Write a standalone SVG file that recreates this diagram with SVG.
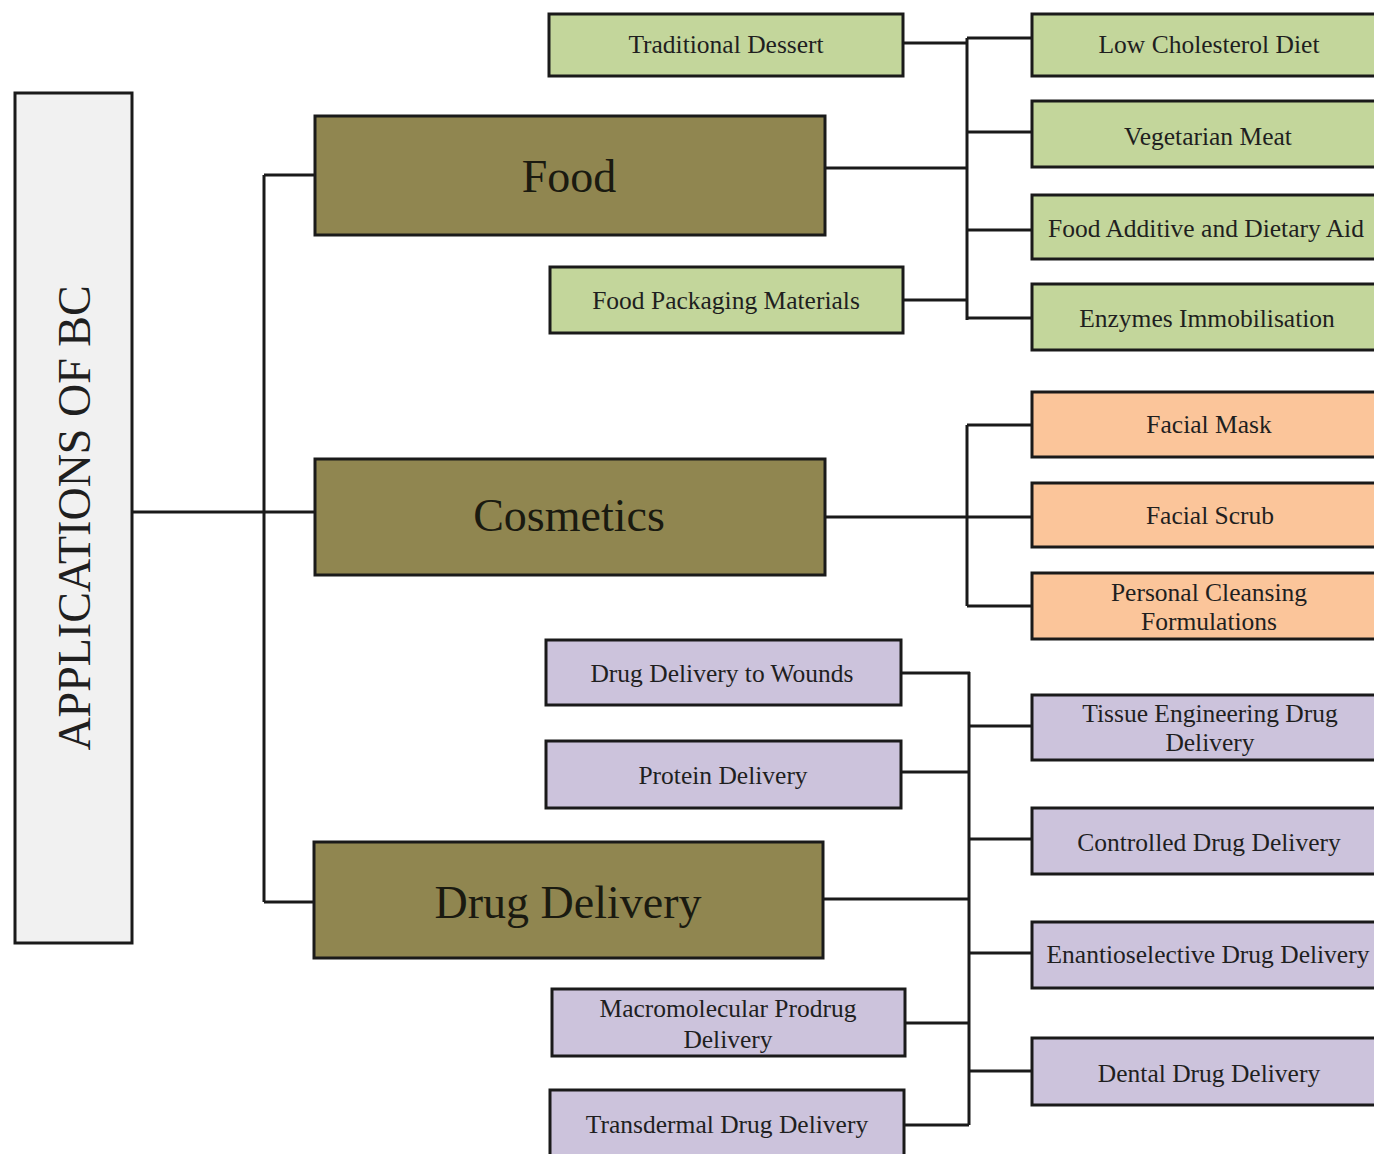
<svg xmlns="http://www.w3.org/2000/svg" width="1374" height="1154" viewBox="0 0 1374 1154">
<style>
.box{stroke:#1a1a1a;stroke-width:3}
.root{fill:#f1f1f1}
.main{fill:#908650}
.g{fill:#c3d69b}
.o{fill:#fbc59a}
.p{fill:#ccc3dc}
text{font-family:"Liberation Serif","Times New Roman",serif;fill:#1f1f1f;text-anchor:middle;dominant-baseline:central}
.s{font-family:"Liberation Serif","Times New Roman",serif;font-size:25.5px}
.big{font-size:46px;fill:#1a1a10}
.conn{fill:none;stroke:#1a1a1a;stroke-width:3}
</style>
<rect width="1374" height="1154" fill="#ffffff"/>
<g id="connectors">
<path class="conn" d="M132 512H315M264 175V902M264 175H315M264 902H315"/>
<path class="conn" d="M903 43H967M825 168H967M903 300H967M967 38V320M967 38H1032M967 132H1032M967 230H1032M967 318H1032"/>
<path class="conn" d="M825 517H1032M967 425V606M967 425H1032M967 606H1032"/>
<path class="conn" d="M901 673H970M901 772H969M823 899H969M905 1023H969M904 1125H969M969 672V1125M969 726H1032M969 839H1032M969 953H1032M969 1071H1032"/>
</g>
<g id="root"><rect class="box root" x="15" y="93" width="117" height="850"/><text x="74" y="518" font-size="46" transform="rotate(-90 74 518)">APPLICATIONS OF BC</text></g>
<g id="food"><rect class="box main" x="315" y="116" width="510" height="119"/><text class="big" x="569" y="176">Food</text></g>
<g id="cosmetics"><rect class="box main" x="315" y="459" width="510" height="116"/><text class="big" x="569" y="515">Cosmetics</text></g>
<g id="drug"><rect class="box main" x="314" y="842" width="509" height="116"/><text class="big" x="568" y="902">Drug Delivery</text></g>
<g id="dessert"><rect class="box g" x="549" y="14" width="354" height="62"/><text class="s" x="726" y="44">Traditional Dessert</text></g>
<g id="packaging"><rect class="box g" x="550" y="267" width="353" height="66"/><text class="s" x="726" y="300">Food Packaging Materials</text></g>
<g id="cholesterol"><rect class="box g" x="1032" y="14" width="345" height="62"/><text class="s" x="1209" y="44">Low Cholesterol Diet</text></g>
<g id="vegmeat"><rect class="box g" x="1032" y="101" width="345" height="66"/><text class="s" x="1208" y="136">Vegetarian Meat</text></g>
<g id="additive"><rect class="box g" x="1032" y="195" width="345" height="64"/><text class="s" x="1206" y="228">Food Additive and Dietary Aid</text></g>
<g id="enzymes"><rect class="box g" x="1032" y="284" width="345" height="66"/><text class="s" x="1207" y="318">Enzymes Immobilisation</text></g>
<g id="mask"><rect class="box o" x="1032" y="392" width="345" height="65"/><text class="s" x="1209" y="424">Facial Mask</text></g>
<g id="scrub"><rect class="box o" x="1032" y="483" width="345" height="64"/><text class="s" x="1210" y="515">Facial Scrub</text></g>
<g id="cleansing"><rect class="box o" x="1032" y="573" width="345" height="66"/><text class="s" x="1209" y="592">Personal Cleansing</text><text class="s" x="1209" y="621">Formulations</text></g>
<g id="wounds"><rect class="box p" x="546" y="640" width="355" height="65"/><text class="s" x="722" y="673">Drug Delivery to Wounds</text></g>
<g id="protein"><rect class="box p" x="546" y="741" width="355" height="67"/><text class="s" x="723" y="775">Protein Delivery</text></g>
<g id="macro"><rect class="box p" x="552" y="989" width="353" height="67"/><text class="s" x="728" y="1008">Macromolecular Prodrug</text><text class="s" x="728" y="1039">Delivery</text></g>
<g id="transdermal"><rect class="box p" x="550" y="1090" width="354" height="70"/><text class="s" x="727" y="1124">Transdermal Drug Delivery</text></g>
<g id="tissue"><rect class="box p" x="1032" y="695" width="345" height="65"/><text class="s" x="1210" y="713">Tissue Engineering Drug</text><text class="s" x="1210" y="742">Delivery</text></g>
<g id="controlled"><rect class="box p" x="1032" y="808" width="345" height="66"/><text class="s" x="1209" y="842">Controlled Drug Delivery</text></g>
<g id="enantio"><rect class="box p" x="1032" y="922" width="345" height="66"/><text class="s" x="1208" y="954">Enantioselective Drug Delivery</text></g>
<g id="dental"><rect class="box p" x="1032" y="1038" width="345" height="67"/><text class="s" x="1209" y="1073">Dental Drug Delivery</text></g>
</svg>
